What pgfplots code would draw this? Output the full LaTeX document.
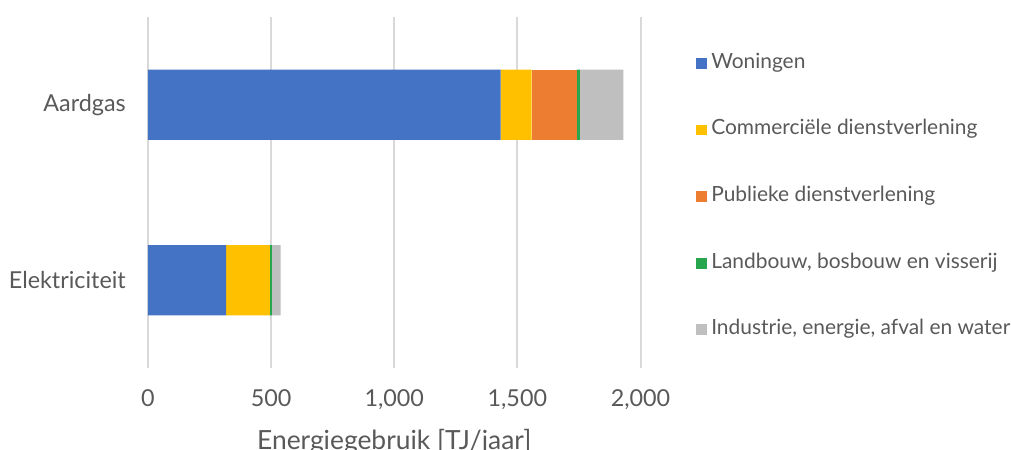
\documentclass[border=0pt]{standalone}
\usepackage{pgfplots}
\pgfplotsset{compat=1.18}
\usepackage{fontspec}
\setmainfont{Lato}

\definecolor{cwon}{HTML}{4472C4}
\definecolor{ccom}{HTML}{FFC000}
\definecolor{cpub}{HTML}{ED7D31}
\definecolor{clan}{HTML}{27A64E}
\definecolor{cind}{HTML}{BFBFBF}
\definecolor{txt}{HTML}{595959}
\definecolor{gridc}{HTML}{D9D9D9}

\begin{document}
\begin{tikzpicture}
\begin{axis}[
  at={(111pt,61.5pt)}, anchor=south west,
  scale only axis, width=369.375pt, height=263.25pt,
  xbar stacked, bar width=0.4,
  xmin=0, xmax=2000, ymin=-0.5, ymax=1.5,
  xtick={0,500,1000,1500,2000},
  xticklabels={0,500,{1,000},{1,500},{2,000}},
  ytick={0,1}, yticklabels={Elektriciteit,Aardgas},
  axis line style={draw=none}, major tick length=0pt,
  xmajorgrids, grid style={color=gridc, line width=1.5pt},
  ticklabel style={font=\fontsize{17.5}{20}\selectfont, color=txt},
  xticklabel style={anchor=north, inner sep=0pt, yshift=-15.75pt},
  yticklabel style={anchor=east, inner sep=0pt, xshift=-16.5pt},
  xlabel={Energiegebruik [TJ/jaar]},
  xlabel style={at={(axis description cs:0.5,-0.232)}, anchor=base,
    font=\fontsize{19.8}{22}\selectfont, color=txt, inner sep=0pt},
  legend style={at={(axis description cs:1.1040,0.4886)}, anchor=west,
    draw=none, fill=none, font=\fontsize{15.7}{18}\selectfont, text=txt,
    row sep=35.4pt,
    nodes={inner ysep=0pt, inner xsep=3.2pt, text height=11pt, text depth=3.5pt}},
  legend cell align=left,
  legend image code/.code={\path[#1] (0pt,-4.1pt) rectangle (8.25pt,4.1pt);},
]
% y = 1: Aardgas, y = 0: Elektriciteit
\addplot[fill=cwon, draw=none] coordinates {(1432,1) (317,0)};
\addplot[fill=ccom, draw=none] coordinates {(126,1) (178,0)};
\addplot[fill=cpub, draw=none] coordinates {(184,1) (0,0)};
\addplot[fill=clan, draw=none] coordinates {(12,1) (8,0)};
\addplot[fill=cind, draw=none] coordinates {(176,1) (36,0)};
\legend{Woningen, Commerciële dienstverlening, Publieke dienstverlening,
  {Landbouw, bosbouw en visserij}, {Industrie, energie, afval en water}}
\end{axis}
\pgfresetboundingbox
\path (0,0) rectangle (758.25pt,337.5pt);
\end{tikzpicture}
\end{document}
